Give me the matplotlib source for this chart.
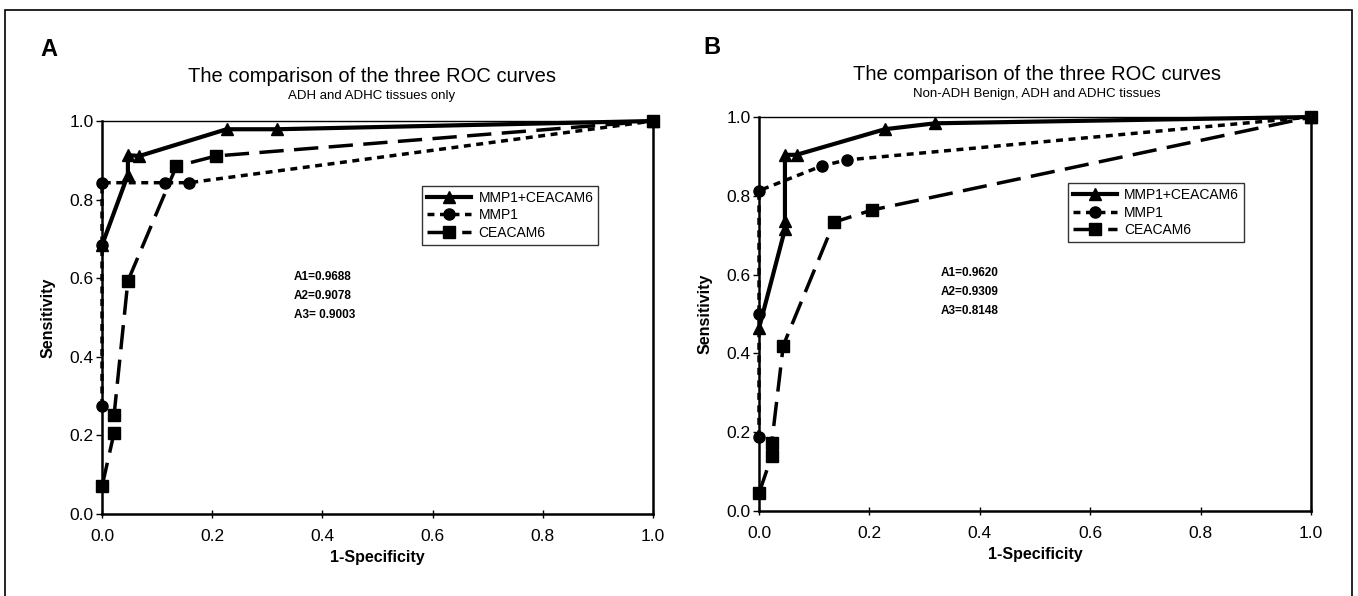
import matplotlib
matplotlib.use("Agg")
import matplotlib.pyplot as plt
from matplotlib.patches import Rectangle

plt.rcParams['font.family'] = ['Liberation Sans', 'DejaVu Sans']

# Panel A: ADH and ADHC tissues only
a_combo_x = [0.0, 0.047, 0.047, 0.068, 0.226, 0.318, 1.0]
a_combo_y = [0.684, 0.863, 0.913, 0.911, 0.979, 0.979, 1.0]
a_mmp1_x = [0.0, 0.0, 0.0, 0.114, 0.158, 1.0]
a_mmp1_y = [0.275, 0.684, 0.843, 0.843, 0.843, 1.0]
a_cea_x = [0.0, 0.022, 0.022, 0.047, 0.135, 0.207, 1.0]
a_cea_y = [0.07, 0.207, 0.253, 0.593, 0.885, 0.911, 1.0]
a_auc = ["A1=0.9688", "A2=0.9078", "A3= 0.9003"]

# Panel B: Non-ADH benign, ADH and ADHC tissues
b_combo_x = [0.0, 0.047, 0.047, 0.047, 0.068, 0.228, 0.319, 1.0]
b_combo_y = [0.464, 0.715, 0.735, 0.904, 0.904, 0.969, 0.984, 1.0]
b_mmp1_x = [0.0, 0.0, 0.0, 0.114, 0.159, 1.0]
b_mmp1_y = [0.187, 0.499, 0.813, 0.876, 0.891, 1.0]
b_cea_x = [0.0, 0.023, 0.023, 0.044, 0.136, 0.205, 1.0]
b_cea_y = [0.045, 0.14, 0.172, 0.42, 0.733, 0.764, 1.0]
b_auc = ["A1=0.9620", "A2=0.9309", "A3=0.8148"]

labels = ["MMP1+CEACAM6", "MMP1", "CEACAM6"]
ticks = [0.0, 0.2, 0.4, 0.6, 0.8, 1.0]

W, H = 1358, 596
fig = plt.figure(figsize=(W / 100, H / 100), dpi=100)

# outer frame around the whole figure
fig.add_artist(Rectangle((5 / W, -0.05), 1347 / W, 1.05 - 10 / H,
                         transform=fig.transFigure, fill=False, lw=1.2, ec='black'))


def draw_panel(rect, combo, mmp1, cea, auc, leg_pos, auc_pos):
    ax = fig.add_axes(rect)
    ax.plot(combo[0], combo[1], color='black', lw=3, marker='^', ms=9,
            label=labels[0], clip_on=False, zorder=5)
    ax.plot(mmp1[0], mmp1[1], color='black', lw=2.5, marker='o', ms=8,
            dashes=(2, 1.6), label=labels[1], clip_on=False, zorder=4)
    ax.plot(cea[0], cea[1], color='black', lw=2.5, marker='s', ms=8,
            dashes=(7, 3), label=labels[2], clip_on=False, zorder=3)
    ax.set_xlim(0, 1)
    ax.set_ylim(0, 1)
    ax.set_xticks(ticks)
    ax.set_yticks(ticks)
    ax.set_xticklabels([f"{t:.1f}" for t in ticks])
    ax.set_yticklabels([f"{t:.1f}" for t in ticks])
    ax.tick_params(axis='x', direction='inout', length=6, width=1, labelsize=12.5, pad=8)
    ax.tick_params(axis='y', direction='out', length=4, width=1, labelsize=12.5, pad=2)
    for s in ['left', 'bottom', 'right']:
        ax.spines[s].set_linewidth(1.8)
    ax.spines['top'].set_linewidth(1.0)
    ax.set_xlabel("1-Specificity", fontsize=11.5, fontweight='bold', labelpad=4)
    ax.set_ylabel("Sensitivity", fontsize=11.5, fontweight='bold', labelpad=10)
    leg = ax.legend(loc='upper left', bbox_to_anchor=leg_pos, fontsize=10,
                    frameon=True, fancybox=False, edgecolor='black',
                    handlelength=3.2, handletextpad=0.5, borderpad=0.35,
                    labelspacing=0.25, borderaxespad=0)
    leg.get_frame().set_linewidth(1.0)
    for i, t in enumerate(auc):
        ax.text(auc_pos[0], auc_pos[1] - i * 0.048, t, fontsize=8.5,
                fontweight='bold', va='center', ha='left', transform=ax.transAxes)
    return ax


draw_panel([102 / W, 1 - 514 / H, 551 / W, 393 / H],
           (a_combo_x, a_combo_y), (a_mmp1_x, a_mmp1_y), (a_cea_x, a_cea_y),
           a_auc, (0.581, 0.835), (0.348, 0.603))
draw_panel([759 / W, 1 - 511 / H, 552 / W, 394 / H],
           (b_combo_x, b_combo_y), (b_mmp1_x, b_mmp1_y), (b_cea_x, b_cea_y),
           b_auc, (0.56, 0.832), (0.329, 0.604))

# panel letters and titles
fig.text(40 / W, 1 - 50 / H, "A", fontsize=17, fontweight='bold', va='center')
fig.text(703 / W, 1 - 48 / H, "B", fontsize=17, fontweight='bold', va='center')
fig.text(372 / W, 1 - 76 / H, "The comparison of the three ROC curves",
         fontsize=14.5, ha='center', va='center')
fig.text(372 / W, 1 - 96 / H, "ADH and ADHC tissues only",
         fontsize=9.5, ha='center', va='center')
fig.text(1037 / W, 1 - 74 / H, "The comparison of the three ROC curves",
         fontsize=14.5, ha='center', va='center')
fig.text(1037 / W, 1 - 94 / H, "Non-ADH Benign, ADH and ADHC tissues",
         fontsize=9.5, ha='center', va='center')

fig.savefig("out.png", dpi=100)
